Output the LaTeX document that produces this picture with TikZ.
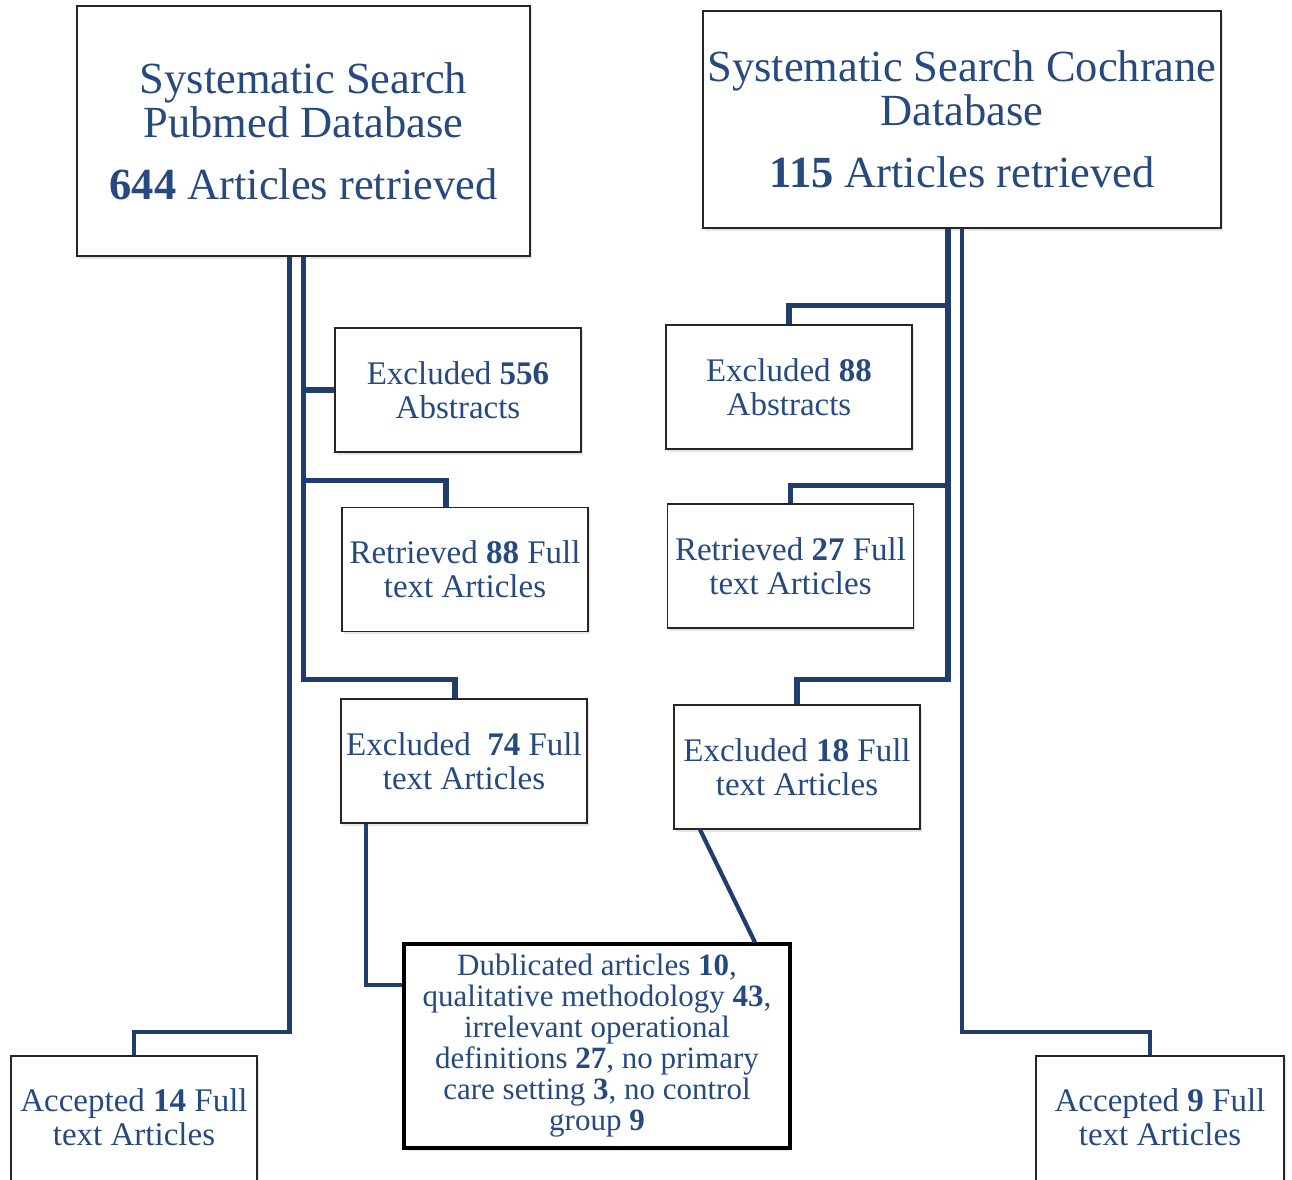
\documentclass[tikz,border=0pt]{standalone}
\usepackage{fontspec}
\setmainfont{Liberation Serif}
\usepackage{xcolor}
\usetikzlibrary{shadows}
\definecolor{lineblue}{RGB}{31,61,109}
\definecolor{textblue}{RGB}{38,74,128}

\begin{document}
\begin{tikzpicture}[x=1pt, y=-1pt]
\tikzstyle{every node}=[rectangle, draw=black!85, line width=1.3pt, fill=white,
                        text=textblue, align=center, inner sep=0pt,
                        drop shadow={shadow xshift=1.5pt, shadow yshift=-2.5pt, opacity=.2}]
\tikzstyle{head}=[font=\fontsize{44.5}{44}\selectfont]
\tikzstyle{small}=[font=\fontsize{33}{34}\selectfont, minimum width=246pt, minimum height=124pt]
\tikzstyle{trunk}=[draw=lineblue, line width=5.5pt]
\tikzstyle{side}=[draw=lineblue, line width=4.2pt]
\useasboundingbox (0,0) rectangle (1292,1179);
% search boxes
\node[head, minimum width=453pt, minimum height=250pt] (pub) at (303.5,131)
  {Systematic Search\\Pubmed Database\\[18pt]\textbf{644} Articles retrieved};
\node[head, minimum width=518pt, minimum height=217pt] (coch) at (962,119.5)
  {Systematic Search Cochrane\\Database\\[18pt]\textbf{115} Articles retrieved};
% pubmed column
\node[small] (ex556) at (458,390) {Excluded \textbf{556}\\Abstracts};
\node[small] (ret88) at (465,569.5) {Retrieved \textbf{88} Full\\text Articles};
\node[small] (ex74) at (464,761) {Excluded~~\textbf{74} Full\\text Articles};
% cochrane column
\node[small] (ex88) at (789,387) {Excluded \textbf{88}\\Abstracts};
\node[small] (ret27) at (790.5,566) {Retrieved \textbf{27} Full\\text Articles};
\node[small] (ex18) at (797,767) {Excluded \textbf{18} Full\\text Articles};
% reasons and results
\node[font=\fontsize{31}{31}\selectfont, line width=3.2pt, draw=black,
      minimum width=386pt, minimum height=204pt] (dup) at (597,1046)
  {Dublicated articles \textbf{10},\\qualitative methodology \textbf{43},\\irrelevant operational\\definitions \textbf{27}, no primary\\care setting \textbf{3}, no control\\group \textbf{9}};
\node[small, minimum height=132pt] (acc14) at (134,1122)
  {\raisebox{5pt}{\begin{tabular}{@{}c@{}}Accepted \textbf{14} Full\\text Articles\end{tabular}}};
\node[small, minimum width=248pt, minimum height=132pt] (acc9) at (1160,1122)
  {\raisebox{5pt}{\begin{tabular}{@{}c@{}}Accepted \textbf{9} Full\\text Articles\end{tabular}}};
% connectors
\draw[trunk] (pub.south) |- ([xshift=-9pt,yshift=19pt]ex74.north) -- ([xshift=-9pt]ex74.north);
\draw[trunk] ([yshift=-224pt]pub.south) -| ([xshift=-19pt]ret88.north);
\draw[trunk] (ex556.west) -- (ex556.west -| pub.south);
\draw[side] ([xshift=-14pt]pub.south) |- ([yshift=23pt]acc14.north) -- (acc14.north);
\draw[trunk] ([xshift=-14pt]coch.south) |- ([yshift=25pt]ex18.north) -- (ex18.north);
\foreach \d/\n in {77/ex88, 257/ret27}{\draw[trunk] ([xshift=-14pt,yshift=-\d pt]coch.south) -| (\n.north);}
\draw[side] (coch.south) |- ([xshift=-10pt,yshift=23pt]acc9.north) -- ([xshift=-10pt]acc9.north);
\draw[side] ([xshift=-98pt]ex74.south) |- ([yshift=61pt]dup.west);
\draw[side] ([xshift=-97pt]ex18.south) -- ([xshift=158pt]dup.north);
\end{tikzpicture}
\end{document}
